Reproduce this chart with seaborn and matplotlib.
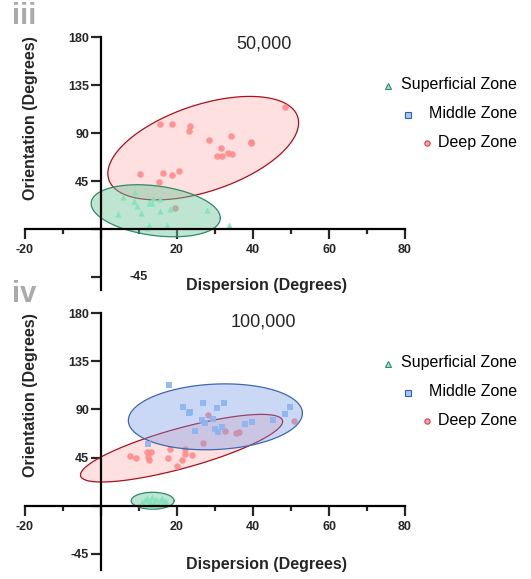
import numpy as np
import pandas as pd
import matplotlib
matplotlib.use("Agg")
import matplotlib.pyplot as plt
from matplotlib.lines import Line2D
import seaborn as sns

# ---------------- data ----------------
# Panel iii (50,000)
top_sup_x = [5.8, 9.0, 8.6, 9.6, 13.4, 13.8, 15.5, 15.5, 18.1, 10.5, 4.5, 27.9, 12.7, 17.4, 33.8, 12.1, 12.7]
top_sup_y = [30.3, 34.4, 26.5, 21.9, 24.1, 28.8, 28.1, 17.2, 18.7, 14.7, 13.8, 17.8, 3.7, 3.7, 3.7, 0.6, 24.5]
top_deep_x = [48.3, 15.5, 18.7, 23.4, 23.1, 28.4, 34.1, 39.5, 39.5, 31.6, 30.4, 31.8, 33.5, 34.5,
              10.2, 16.2, 18.7, 20.4, 15.2, 19.5]
top_deep_y = [114.6, 98.1, 98.4, 96.8, 91.8, 83.4, 86.9, 81.2, 80.3, 76.2, 68.1, 68.1, 71.5, 70.0,
              51.3, 52.2, 50.3, 54.1, 43.8, 19.4]

# Panel iv (100,000)
bot_sup_x = [10.8, 11.5, 12.0, 12.5, 13.0, 13.5, 14.0, 14.5, 15.0, 15.5, 16.0, 16.5, 17.0, 13.2]
bot_sup_y = [3.0, 5.0, 7.0, 2.0, 4.0, 8.0, 3.0, 6.0, 2.0, 5.0, 7.0, 3.0, 4.0, 0.5]
bot_mid_x = [17.8, 21.6, 23.1, 23.5, 26.8, 30.5, 32.4, 26.7, 27.3, 29.6, 24.7, 30.0, 30.7, 31.8,
             38.0, 39.7, 45.2, 48.3, 49.8, 12.4]
bot_mid_y = [112.7, 92.2, 86.9, 87.2, 95.6, 91.5, 95.9, 80.0, 77.5, 80.7, 69.8, 71.4, 68.6, 73.2,
             76.6, 78.2, 79.8, 85.4, 92.2, 57.4]
bot_deep_x = [28.1, 50.7, 32.7, 35.5, 36.4, 26.8, 7.5, 9.2, 12.1, 13.2, 12.3, 12.7, 18.2, 17.6,
              22.1, 22.2, 23.9, 21.4, 19.9]
bot_deep_y = [85.0, 79.4, 69.8, 67.9, 68.6, 58.6, 46.4, 44.6, 50.4, 50.4, 45.8, 42.7, 53.0, 44.8,
              53.2, 48.0, 47.4, 42.4, 36.8]

# Ellipses: centre x, centre y, half-range x, half-range y, correlation
top_deep_ell = [26.9, 75.8, 25.1, 48.5, 0.49]
top_sup_ell = [14.4, 17.1, 17.0, 24.4, -0.28]
bot_deep_ell = [21.2, 53.7, 26.6, 31.6, 0.79]
bot_mid_ell = [30.1, 83.0, 22.9, 30.8, 0.11]
bot_sup_ell = [13.6, 4.6, 5.65, 7.9, 0.0]

zones = ["Superficial Zone", "Middle Zone", "Deep Zone"]
x_ticks = [-20, 0, 20, 40, 60, 80]
x_ticklabels = ["-20", "", "20", "40", "60", "80"]
x_minor = [-10, 10, 30, 50, 70]
y_ticks = [-45, 0, 45, 90, 135, 180]
y_ticklabels = ["-45", "", "45", "90", "135", "180"]

# ---------------- style ----------------
sns.set_style("white")
plt.rcParams["font.family"] = ["Liberation Sans", "DejaVu Sans"]

COL = {
    "Superficial Zone": dict(pt="#7fe3bd", fc="#6fc79b", ec="#2e8a66", fa=0.45, marker="^",
                             lfc="#9fe6c8", lec="#2e8a66"),
    "Middle Zone": dict(pt="#8ab4f2", fc="#7599e6", ec="#3d68b0", fa=0.38, marker="s",
                        lfc="#a8c4f0", lec="#3060b0"),
    "Deep Zone": dict(pt="#ff8a8a", fc="#ff9b9b", ec="#a8101e", fa=0.30, marker="o",
                      lfc="#f8a0a8", lec="#d04050"),
}

W, H = 531, 579
fig = plt.figure(figsize=(W / 100, H / 100), dpi=100)


def ellipse_xy(p, n=300):
    cx, cy, sx, sy, rho = p
    t = np.linspace(0, 2 * np.pi, n)
    x = cx + sx * np.cos(t)
    y = cy + sy * (rho * np.cos(t) + np.sqrt(1 - rho ** 2) * np.sin(t))
    return x, y


def draw_group(ax, zone, xs, ys, ell, z):
    c = COL[zone]
    ex, ey = ellipse_xy(ell)
    ax.fill(ex, ey, facecolor=c["fc"], alpha=c["fa"], edgecolor="none", zorder=z)
    ax.plot(ex, ey, color=c["ec"], lw=0.9, zorder=z + 0.01)
    if xs is not None:
        df = pd.DataFrame({"x": xs, "y": ys})
        size = 22 if c["marker"] == "o" else 20
        sns.scatterplot(data=df, x="x", y="y", ax=ax, color=c["pt"], marker=c["marker"],
                        s=size, linewidth=0, alpha=0.9, zorder=z + 0.05, legend=False)


def style_axes(ax, ylim, misplaced_m45=False):
    ax.set_xlim(-20, 80)
    ax.set_ylim(*ylim)
    for s in ["top", "right"]:
        ax.spines[s].set_visible(False)
    ax.spines["left"].set_position(("data", 0))
    ax.spines["bottom"].set_position(("data", 0))
    for s in ["left", "bottom"]:
        ax.spines[s].set_linewidth(1.6)
        ax.spines[s].set_color("black")
    ax.set_xticks(x_ticks)
    ax.set_xticklabels(x_ticklabels, fontsize=9, fontweight="bold")
    ax.set_xticks(x_minor, minor=True)
    ax.set_yticks(y_ticks)
    labels = list(y_ticklabels)
    if misplaced_m45:
        labels[0] = ""
    ax.set_yticklabels(labels, fontsize=9, fontweight="bold")
    ax.tick_params(axis="x", which="major", direction="out", length=7, width=1.6, pad=4,
                   bottom=True, left=False)
    ax.tick_params(axis="x", which="minor", direction="out", length=3.5, width=1.6, bottom=True)
    ax.tick_params(axis="y", which="major", direction="out", length=7, width=1.6, pad=1.5, left=True)
    if misplaced_m45:
        ax.text(10.0, -45, "-45", ha="center", va="center", fontsize=9, fontweight="bold")
    ax.set_xlabel("Dispersion (Degrees)", fontsize=11.5, fontweight="bold")
    ax.set_ylabel("Orientation (Degrees)", fontsize=11.5, fontweight="bold")
    ax.set_facecolor("none")


def add_legend(ys_px):
    xs_marker = [388, 408, 427]
    for zone, ypx, xm in zip(zones, ys_px, xs_marker):
        c = COL[zone]
        fig.text(517 / W, 1 - ypx / H, zone, ha="right", va="center", fontsize=11.5, color="black")
        fig.add_artist(Line2D([xm / W], [1 - (ypx + 1) / H], transform=fig.transFigure,
                              marker=c["marker"], markersize=3.8 if c["marker"] != "^" else 4.2,
                              markerfacecolor=c["lfc"], markeredgecolor=c["lec"],
                              markeredgewidth=0.8, linestyle="none"))


# ---------------- panel iii ----------------
top_px, bot_px = 37, 289.8
ax1 = fig.add_axes([25 / W, 1 - bot_px / H, 380 / W, (bot_px - top_px) / H])
draw_group(ax1, "Deep Zone", top_deep_x, top_deep_y, top_deep_ell, 1.0)
draw_group(ax1, "Superficial Zone", top_sup_x, top_sup_y, top_sup_ell, 1.4)
style_axes(ax1, (-57, 180), misplaced_m45=True)
ax1.xaxis.set_label_coords(0.635, 0.045)
ax1.yaxis.set_label_coords(0.034, 0.68)
ax1.text(0.628, 0.974, "50,000", transform=ax1.transAxes, ha="center", va="center", fontsize=13)
add_legend([85, 114, 142])

# ---------------- panel iv ----------------
top_px2, bot_px2 = 313, 569.9
ax2 = fig.add_axes([25 / W, 1 - bot_px2 / H, 380 / W, (bot_px2 - top_px2) / H])
draw_group(ax2, "Deep Zone", bot_deep_x, bot_deep_y, bot_deep_ell, 1.0)
draw_group(ax2, "Middle Zone", bot_mid_x, bot_mid_y, bot_mid_ell, 1.2)
draw_group(ax2, "Superficial Zone", bot_sup_x, bot_sup_y, bot_sup_ell, 1.4)
style_axes(ax2, (-60, 180))
ax2.xaxis.set_label_coords(0.635, 0.05)
ax2.yaxis.set_label_coords(0.034, 0.68)
ax2.text(0.628, 0.965, "100,000", transform=ax2.transAxes, ha="center", va="center", fontsize=13)
add_legend([363, 392, 420])

# panel labels
fig.text(24 / W, 1 - 16 / H, "iii", ha="center", va="center", fontsize=21, fontweight="bold",
         color="#aaaaaa")
fig.text(24 / W, 1 - 294 / H, "iv", ha="center", va="center", fontsize=21, fontweight="bold",
         color="#aaaaaa")

fig.savefig("out.png", dpi=100)
